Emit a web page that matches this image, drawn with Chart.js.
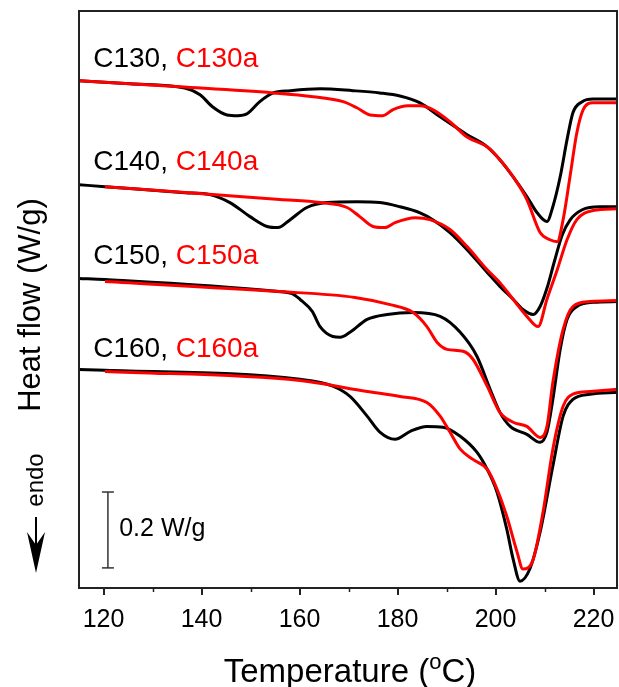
<!DOCTYPE html>
<html>
<head>
<meta charset="utf-8">
<title>DSC heat flow</title>
<script src="https://cdn.jsdelivr.net/npm/chart.js@4.4.1/dist/chart.umd.min.js"></script>
<style>
  html, body { margin: 0; padding: 0; background: #fff; }
  #wrap { width: 619px; height: 687px; }
</style>
</head>
<body>
<div id="wrap"><canvas id="my-chart" width="619" height="687"></canvas></div>
<script>
'use strict';

// ***** DATA (temperature in oC, heat flow in W/g, curves shifted) *****
let xTicks = [120, 140, 160, 180, 200, 220];
let xMinorTicks = [130, 150, 170, 190, 210];

let c130T = [115, 125.4, 136.6, 139.7, 142.3, 145.2, 147.4, 149.3, 151.9, 154.6, 158.1, 164.2, 170.9, 176.4, 180.5, 184.6, 188.7, 194.2, 198.3, 200.9, 203.6, 206.4, 208.5, 210.5, 211.7, 213.2, 214.6, 215.8, 217.7, 219.9, 225];
let c130 = [1.337, 1.329, 1.318, 1.300, 1.268, 1.247, 1.245, 1.250, 1.282, 1.305, 1.311, 1.316, 1.311, 1.305, 1.297, 1.279, 1.242, 1.195, 1.163, 1.129, 1.084, 1.032, 0.989, 0.966, 1.005, 1.084, 1.182, 1.253, 1.282, 1.289, 1.289];

let c130aT = [115, 135.6, 154.6, 162.8, 168.9, 171.7, 174.4, 177.0, 179.1, 182.1, 184.6, 187.2, 190.7, 194.2, 198.3, 200.9, 203.6, 206.4, 209.1, 211.1, 212.6, 213.8, 215.2, 216.6, 217.9, 219.9, 225];
let c130a = [1.337, 1.321, 1.305, 1.295, 1.282, 1.266, 1.247, 1.245, 1.261, 1.271, 1.271, 1.261, 1.229, 1.189, 1.163, 1.129, 1.084, 1.024, 0.937, 0.918, 0.913, 0.971, 1.084, 1.200, 1.261, 1.279, 1.279];

let c140T = [115, 120.3, 136.6, 141.7, 145.8, 149.9, 153.4, 155.6, 158.1, 161.5, 165.6, 171.7, 176.4, 180.5, 184.6, 187.2, 190.7, 194.2, 198.3, 200.9, 203.6, 205.6, 207.7, 209.1, 210.5, 212.0, 213.6, 215.2, 217.7, 221.3, 225];
let c140 = [1.063, 1.058, 1.042, 1.037, 1.016, 0.979, 0.953, 0.950, 0.971, 1.003, 1.016, 1.018, 1.016, 1.005, 0.989, 0.971, 0.937, 0.892, 0.832, 0.795, 0.761, 0.734, 0.721, 0.742, 0.790, 0.860, 0.930, 0.970, 0.997, 1.005, 1.005];

let c140aT = [120.3, 142.3, 156.0, 164.2, 169.7, 172.3, 175.0, 177.4, 179.5, 183.6, 186.6, 190.7, 194.2, 198.3, 200.9, 203.6, 206.4, 208.7, 210.5, 212.6, 214.6, 216.6, 219.9, 225];
let c140a = [1.058, 1.037, 1.024, 1.016, 1.003, 0.979, 0.953, 0.950, 0.963, 0.976, 0.971, 0.945, 0.900, 0.839, 0.805, 0.761, 0.716, 0.689, 0.761, 0.839, 0.918, 0.971, 0.995, 1.000];

let c150T = [115, 120.3, 155.2, 158.5, 160.1, 162.6, 164.2, 166.8, 168.3, 170.3, 173.8, 177.9, 183.2, 188.7, 192.8, 196.2, 198.9, 200.9, 203.0, 206.4, 209.1, 210.5, 211.7, 213.2, 214.6, 216.6, 219.9, 225];
let c150 = [0.816, 0.813, 0.782, 0.776, 0.761, 0.729, 0.689, 0.663, 0.661, 0.674, 0.708, 0.721, 0.726, 0.716, 0.674, 0.611, 0.524, 0.463, 0.426, 0.405, 0.384, 0.411, 0.497, 0.629, 0.708, 0.742, 0.753, 0.755];

let c150aT = [120.3, 155.2, 171.3, 178.5, 183.2, 186.0, 188.1, 190.1, 193.4, 195.4, 198.3, 200.9, 203.6, 206.4, 209.1, 210.5, 211.7, 213.8, 215.8, 219.3, 225];
let c150a = [0.808, 0.782, 0.766, 0.747, 0.726, 0.689, 0.647, 0.629, 0.624, 0.603, 0.532, 0.463, 0.437, 0.426, 0.397, 0.426, 0.542, 0.682, 0.742, 0.755, 0.758];

let c160T = [115, 120.3, 160.1, 166.8, 170.3, 173.8, 176.4, 179.5, 182.6, 186.0, 189.3, 192.8, 196.2, 198.3, 200.3, 202.3, 203.6, 205.0, 207.0, 209.1, 211.7, 213.8, 215.8, 219.3, 225];
let c160 = [0.576, 0.574, 0.550, 0.532, 0.505, 0.453, 0.411, 0.392, 0.413, 0.426, 0.424, 0.400, 0.358, 0.313, 0.253, 0.155, 0.076, 0.018, 0.050, 0.147, 0.321, 0.453, 0.497, 0.511, 0.516];

let c160aT = [120.3, 160.1, 173.8, 180.5, 186.0, 188.7, 190.7, 192.8, 195.4, 198.3, 200.3, 202.3, 204.4, 205.6, 207.7, 209.7, 211.7, 213.8, 215.8, 219.3, 225];
let c160a = [0.571, 0.547, 0.518, 0.505, 0.489, 0.453, 0.411, 0.366, 0.339, 0.313, 0.261, 0.189, 0.095, 0.050, 0.076, 0.200, 0.366, 0.479, 0.511, 0.518, 0.524];

// scale bar: 0.2 W/g
let scaleBarT = [120.9, 120.9];
let scaleBarV = [0.053, 0.253];

// curve labels: [black part, red part, heat flow level of the label]
let curveLabels = [
  ['C130, ', 'C130a', 1.393],
  ['C140, ', 'C140a', 1.122],
  ['C150, ', 'C150a', 0.874],
  ['C160, ', 'C160a', 0.629]
];

// ***** STYLE *****
let fontFamily = "'Liberation Sans', Arial, sans-serif";
let frameColor = '#222';

// ***** CANVAS ELEMENT *****
let ctx = document.getElementById('my-chart');

// **** HELPER FUNCTIONS ****
function toPoints(xs, ys) {
  let pts = [];
  for (let i = 0; i < xs.length; i++) {
    pts.push({ x: xs[i], y: ys[i] });
  }
  return pts;
}

function curve(xs, ys, color) {
  return {
    data: toPoints(xs, ys),
    borderColor: color,
    borderWidth: 3,
    pointRadius: 0,
    fill: false,
    cubicInterpolationMode: 'monotone'
  };
}

// x title with a raised small "o" for degrees
function drawXTitle(c, cx, cy) {
  let big = '33px ' + fontFamily;
  let small = '22px ' + fontFamily;
  let partA = 'Temperature (';
  let partB = 'o';
  let partC = 'C)';
  c.font = big;
  let wA = c.measureText(partA).width;
  let wC = c.measureText(partC).width;
  c.font = small;
  let wB = c.measureText(partB).width;
  let x = cx - (wA + wB + wC) / 2;
  c.textAlign = 'left';
  c.textBaseline = 'alphabetic';
  c.font = big;
  c.fillText(partA, x, cy + 12);
  c.font = small;
  c.fillText(partB, x + wA, cy - 1);
  c.font = big;
  c.fillText(partC, x + wA + wB, cy + 12);
}

// draws frame, minor ticks and all free text
let decorPlugin = {
  id: 'decor',
  beforeDraw(chart) {
    let c = chart.ctx;
    c.save();
    c.fillStyle = '#fff';
    c.fillRect(0, 0, chart.width, chart.height);
    c.restore();
  },
  afterDatasetsDraw(chart) {
    let c = chart.ctx;
    let area = chart.chartArea;
    let xs = chart.scales.x;
    let ys = chart.scales.y;

    c.save();
    c.strokeStyle = frameColor;
    c.lineWidth = 2;
    c.strokeRect(area.left, area.top, area.right - area.left - 1, area.bottom - area.top);

    // minor ticks
    c.lineWidth = 1.5;
    for (let i = 0; i < xMinorTicks.length; i++) {
      let px = Math.round(xs.getPixelForValue(xMinorTicks[i])) + 0.5;
      c.beginPath();
      c.moveTo(px, area.bottom);
      c.lineTo(px, area.bottom + 4);
      c.stroke();
    }

    // labels over the curves
    c.font = '28px ' + fontFamily;
    c.textBaseline = 'middle';
    c.textAlign = 'left';
    for (let i = 0; i < curveLabels.length; i++) {
      let lx = xs.getPixelForValue(117.9);
      let ly = ys.getPixelForValue(curveLabels[i][2]);
      c.fillStyle = '#000';
      c.fillText(curveLabels[i][0], lx, ly);
      c.fillStyle = '#ff0000';
      c.fillText(curveLabels[i][1], lx + c.measureText(curveLabels[i][0]).width, ly);
    }

    // scale bar text
    c.fillStyle = '#000';
    c.font = '25px ' + fontFamily;
    c.fillText('0.2 W/g', xs.getPixelForValue(123.2), ys.getPixelForValue(0.155));

    // x title
    drawXTitle(c, 350, 670);

    // y title
    c.font = '31px ' + fontFamily;
    c.textAlign = 'center';
    c.textBaseline = 'middle';
    c.save();
    c.translate(31, 305);
    c.rotate(-Math.PI / 2);
    c.fillText('Heat flow (W/g)', 0, 0);
    c.restore();

    // endo arrow
    c.font = '24px ' + fontFamily;
    c.save();
    c.translate(36, 480);
    c.rotate(-Math.PI / 2);
    c.fillText('endo', 0, 0);
    c.restore();

    c.strokeStyle = '#000';
    c.lineWidth = 2;
    c.beginPath();
    c.moveTo(36, 517);
    c.lineTo(36, 555);
    c.stroke();
    c.fillStyle = '#000';
    c.beginPath();
    c.moveTo(36, 573);
    c.lineTo(27, 532);
    c.lineTo(36, 545);
    c.lineTo(45, 532);
    c.closePath();
    c.fill();
    c.restore();
  }
};

// **** CHART ****
function renderChart() {
  let chartObj = {
    type: 'line',
    data: {
      datasets: [
        curve(c130aT, c130a, '#ff0000'),
        curve(c140aT, c140a, '#ff0000'),
        curve(c150aT, c150a, '#ff0000'),
        curve(c160aT, c160a, '#ff0000'),
        curve(c130T, c130, '#000000'),
        curve(c140T, c140, '#000000'),
        curve(c150T, c150, '#000000'),
        curve(c160T, c160, '#000000'),
        {
          data: toPoints(scaleBarT, scaleBarV),
          borderColor: '#333',
          borderWidth: 1.5,
          pointStyle: 'line',
          pointRadius: 6,
          pointBorderWidth: 1.5,
          pointBorderColor: '#333',
          tension: 0
        }
      ]
    },
    options: {
      responsive: false,
      animation: false,
      layout: {
        autoPadding: false,
        padding: { left: 79, right: 1, top: 11, bottom: 42 }
      },
      plugins: {
        legend: { display: false },
        tooltip: { enabled: false }
      },
      scales: {
        x: {
          type: 'linear',
          min: 115,
          max: 225,
          afterBuildTicks: (scale) => {
            scale.ticks = xTicks.map(v => ({ value: v }));
          },
          afterFit: (scale) => {
            scale.paddingLeft = 0;
            scale.paddingRight = 0;
          },
          ticks: {
            color: '#000',
            font: { size: 25, family: fontFamily },
            padding: 10,
            maxRotation: 0,
            autoSkip: false
          },
          grid: {
            drawOnChartArea: false,
            tickLength: 7,
            color: frameColor,
            lineWidth: 2
          },
          border: { display: false }
        },
        y: {
          type: 'linear',
          display: false,
          min: 0,
          max: 1.521
        }
      }
    },
    plugins: [decorPlugin]
  };

  new Chart(ctx, chartObj);
}

// **** EXECUTABLE CODE *****
renderChart();
</script>
</body>
</html>
